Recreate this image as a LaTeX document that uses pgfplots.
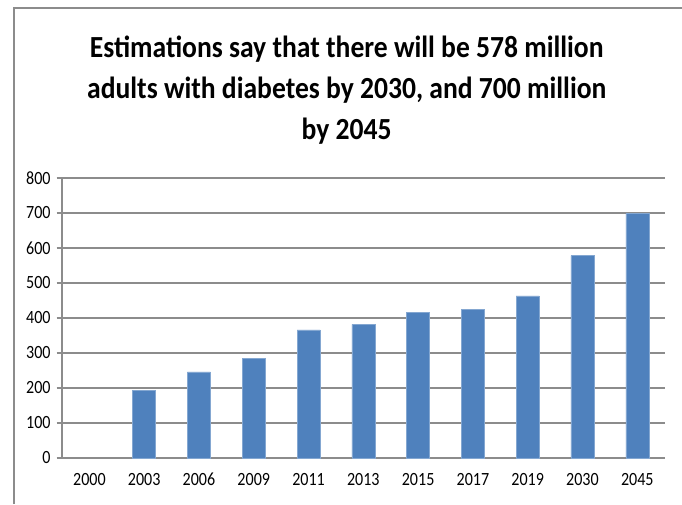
\documentclass[border=0pt]{standalone}
\usepackage{pgfplots}
\pgfplotsset{compat=1.18}
\usepackage{fontspec}
\setmainfont{Carlito}
\definecolor{barblue}{HTML}{4F81BD}
\definecolor{gridgray}{HTML}{8C8C8C}
\newcommand{\tl}[1]{\scalebox{0.86}[1]{#1}}
\begin{document}
\begin{tikzpicture}[x=1pt,y=1pt]
\useasboundingbox (0,0) rectangle (511.5,378);
\draw[gridgray, line width=0.8pt] (10.5,0) -- (10.5,372) -- (511.5,372);
\node[align=center, font=\fontsize{23}{30.75}\selectfont\bfseries] at (260,310.5)
  {\scalebox{0.9}[1]{Estimations say that there will be 578 million}\\\scalebox{0.9}[1]{adults with diabetes by 2030, and 700 million}\\\scalebox{0.9}[1]{by 2045}};
\begin{axis}[
  at={(46.5pt,34.5pt)}, anchor=south west,
  scale only axis, width=452pt, height=210pt,
  xmin=-0.5, xmax=10.5, ymin=0, ymax=800,
  ytick={0,100,...,800},
  yticklabels={\tl{0},\tl{100},\tl{200},\tl{300},\tl{400},\tl{500},\tl{600},\tl{700},\tl{800}},
  xtick={0,...,10},
  xticklabels={\tl{2000},\tl{2003},\tl{2006},\tl{2009},\tl{2011},\tl{2013},\tl{2015},\tl{2017},\tl{2019},\tl{2030},\tl{2045}},
  extra x ticks={-0.5,0.5,...,10.5},
  extra x tick labels={},
  extra x tick style={major tick length=4pt, tick style={gridgray, line width=0.8pt}},
  axis x line=bottom, axis y line=left,
  axis line style={-, gridgray, line width=0.8pt},
  ymajorgrids, grid style={gridgray, line width=0.8pt},
  tick align=outside,
  major tick length=4pt,
  x tick style={draw=none},
  y tick style={gridgray, line width=0.8pt},
  ticklabel style={font=\fontsize{14}{16}\selectfont},
  xticklabel style={yshift=-4pt},
  yticklabel style={xshift=-1pt},
  ybar, bar width=17.25pt,
]
\addplot[fill=barblue, draw=barblue!70!white] coordinates {
(1,194) (2,246) (3,285) (4,366) (5,382) (6,415) (7,425) (8,463) (9,578) (10,700)};
\end{axis}
\end{tikzpicture}
\end{document}
